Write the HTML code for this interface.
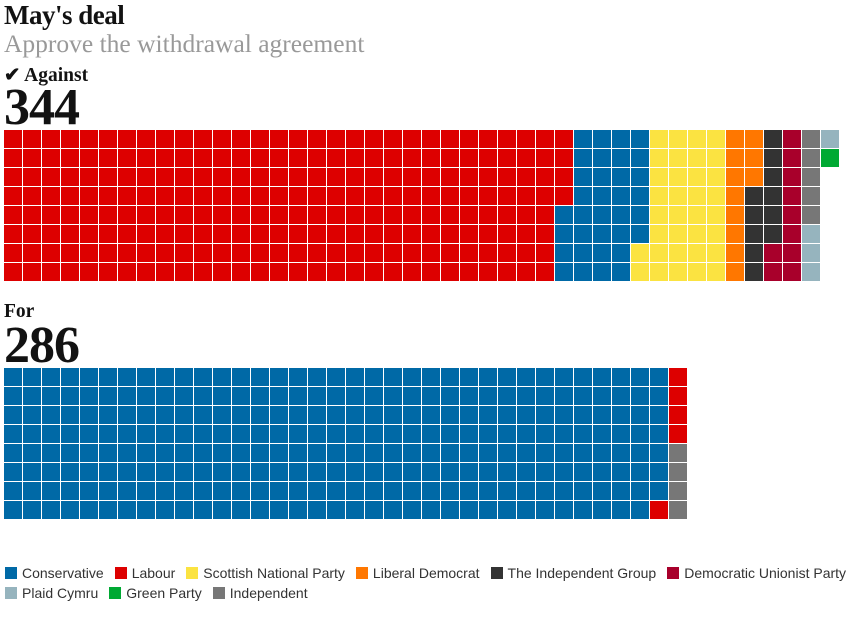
<!DOCTYPE html>
<html><head><meta charset="utf-8"><style>
body{margin:0;width:865px;height:620px;background:#fff;position:relative;overflow:hidden;font-family:"Liberation Serif",serif;}
.t{position:absolute;left:4px;white-space:nowrap;color:#121212}
#title{top:0px;font-size:27px;font-weight:bold;letter-spacing:-0.5px}
#sub{top:29px;font-size:25.5px;color:#999}
#lab1{top:63px;font-size:19.5px;font-weight:bold}
#num1{top:82px;font-size:52px;font-weight:bold;letter-spacing:-1px;line-height:52px}
#lab2{top:301px;font-size:19.5px;font-weight:bold}
#num2{top:320px;font-size:52px;font-weight:bold;letter-spacing:-1px;line-height:52px}
.cell{position:absolute;width:18px;height:18px}
.leg{position:absolute;left:5px;font-family:"Liberation Sans","DejaVu Sans",sans-serif;font-size:14px;color:#333;display:flex;gap:11px;white-space:nowrap}
.li{display:flex;align-items:center}
.sw{width:12px;height:12px;margin-right:5px}
</style></head><body>
<div class="t" id="title">May's deal</div>
<div class="t" id="sub">Approve the withdrawal agreement</div>
<div class="t" id="lab1">✔ Against</div>
<div class="t" id="num1">344</div>
<div class="t" id="lab2">For</div>
<div class="t" id="num2">286</div>
<div id="grid1"></div>
<div id="grid2"></div>
<div class="leg" style="top:565px">
<div class="li"><span class="sw" style="background:#0069a6"></span>Conservative</div>
<div class="li"><span class="sw" style="background:#dd0000"></span>Labour</div>
<div class="li"><span class="sw" style="background:#fbe341"></span>Scottish National Party</div>
<div class="li"><span class="sw" style="background:#ff7700"></span>Liberal Democrat</div>
<div class="li"><span class="sw" style="background:#333333"></span>The Independent Group</div>
<div class="li"><span class="sw" style="background:#a8002b"></span>Democratic Unionist Party</div>
</div>
<div class="leg" style="top:585px">
<div class="li"><span class="sw" style="background:#96b4be"></span>Plaid Cymru</div>
<div class="li"><span class="sw" style="background:#00a933"></span>Green Party</div>
<div class="li"><span class="sw" style="background:#777777"></span>Independent</div>
</div>
<script>
const againstParties=["Labour","Conservative","SNP","LibDem","TIG","DUP","Independent","Plaid","Green"];
const againstCounts=[236,34,34,11,11,10,5,4,1];
const forParties=["Conservative","Labour","Independent"];
const forCounts=[279,5,4];
const colors={Conservative:"#0069a6",Labour:"#dd0000",SNP:"#fbe341",LibDem:"#ff7700",TIG:"#333333",DUP:"#a8002b",Plaid:"#96b4be",Green:"#00a933",Independent:"#777777"};
function draw(id,parties,counts,top){
  const g=document.getElementById(id);
  let i=0;
  parties.forEach((p,k)=>{
    for(let n=0;n<counts[k];n++){
      const c=document.createElement('div');
      c.className='cell';
      
      
      c.style.left=(4+Math.floor(i/8)*19)+'px';
      c.style.top=(top+(i%8)*19)+'px';
      c.style.background=colors[p];
      g.appendChild(c);i++;
    }
  });
}
draw('grid1',againstParties,againstCounts,130);
draw('grid2',forParties,forCounts,368);
</script>
</body></html>
